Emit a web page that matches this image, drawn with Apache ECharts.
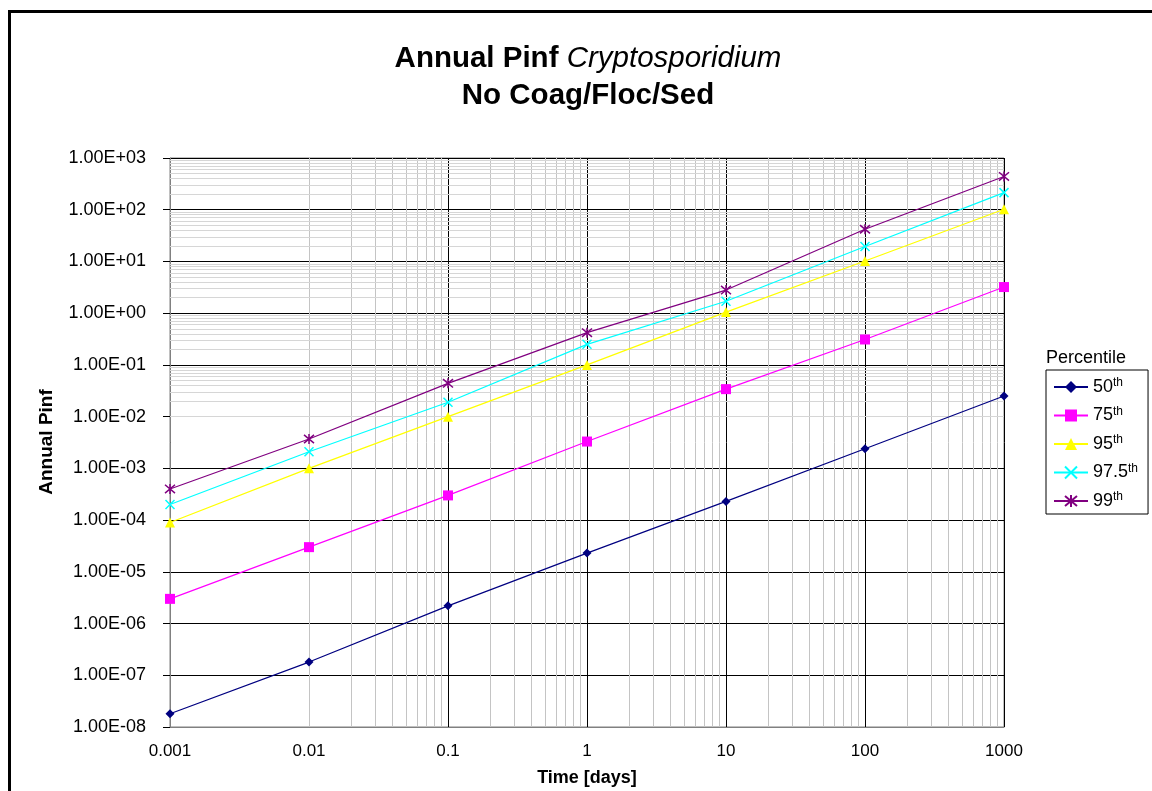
<!DOCTYPE html>
<html>
<head>
<meta charset="utf-8">
<script src="https://cdn.jsdelivr.net/npm/echarts@6/dist/echarts.min.js"></script>
<style>
html,body{margin:0;padding:0;background:#fff;}
#c{width:1152px;height:791px;}
</style>
</head>
<body>
<div id="c"></div>
<script>
// ---- data ----
const timeDays = [0.001, 0.01, 0.1, 1, 10, 100, 1000];
const p50  = [1.8e-8, 1.8e-7, 2.2e-6, 2.3e-5, 2.3e-4, 2.4e-3, 2.5e-2];
const p75  = [3.0e-6, 3.0e-5, 3.0e-4, 3.3e-3, 3.4e-2, 3.1e-1, 3.2];
const p95  = [9.0e-5, 1.0e-3, 1.0e-2, 1.0e-1, 1.05, 10.2, 102];
const p975 = [2.0e-4, 2.1e-3, 1.9e-2, 0.25, 1.7, 19.5, 214];
const p99  = [4.0e-4, 3.7e-3, 4.4e-2, 0.42, 2.8, 42, 440];
const seriesNames = ['50', '75', '95', '97.5', '99'];
const xTickLabels = ['0.001', '0.01', '0.1', '1', '10', '100', '1000'];
const yTickLabels = ['1.00E-08','1.00E-07','1.00E-06','1.00E-05','1.00E-04','1.00E-03','1.00E-02','1.00E-01','1.00E+00','1.00E+01','1.00E+02','1.00E+03'];

const FONT = "'Liberation Sans', Arial, sans-serif";
const chart = echarts.init(document.getElementById('c'));

function pairs(arr){ return timeDays.map((x,i)=>[x, arr[i]]); }

// minor grid values (2..9 x 10^k)
const xMinor = [], yMinor = [];
for (let k=-3;k<=2;k++) for (let m=2;m<=9;m++) xMinor.push(m*Math.pow(10,k));
for (let k=-8;k<=2;k++) for (let m=2;m<=9;m++) yMinor.push(m*Math.pow(10,k));

const colors = ['#000080', '#FF00FF', '#FFFF00', '#00FFFF', '#800080'];
const symbols = ['diamond', 'rect', 'triangle',
  'path://M0,0L10,10M10,0L0,10',
  'path://M0,0L10,10M10,0L0,10M5,-1L5,11'];
const sizes = [9, 10, 10, 9, 10];
const dataSets = [p50, p75, p95, p975, p99];

const dataSeries = dataSets.map((d,i)=>({
  name: seriesNames[i],
  type: 'line',
  data: pairs(d),
  symbol: symbols[i],
  symbolSize: sizes[i],
  showSymbol: true,
  lineStyle: {color: colors[i], width: 1.2},
  itemStyle: i>=3 ? {color: colors[i], borderColor: colors[i], borderWidth: 1.5} : {color: colors[i], borderWidth: 0},
  emphasis: {disabled: true},
  z: 10
}));

const gridSeries = {
  name: '_grid',
  type: 'line',
  data: [],
  silent: true,
  z: 1,
  markLine: {
    silent: true,
    symbol: ['none','none'],
    label: {show: false},
    animation: false,
    z: 1,
    data: [
      ...xMinor.map(v=>({xAxis: v, lineStyle:{color:'#c4c4c4', width:1, type:'solid'}})),
      ...yMinor.map(v=>({yAxis: v, lineStyle:{color:'#d6d6d6', width:1, type:'solid'}}))
    ]
  }
};

const option = {
  animation: false,
  backgroundColor: '#fff',
  textStyle: {fontFamily: FONT},
  grid: {left: 170, top: 158, right: 148, bottom: 64, show: true, borderColor: '#808080', borderWidth: 1, backgroundColor: 'transparent'},
  xAxis: {
    type: 'log', logBase: 10, min: 0.001, max: 1000, interval: 1,
    axisLine: {show: true, lineStyle: {color: '#808080', width: 1}},
    axisTick: {show: false},
    splitLine: {show: true, lineStyle: {color: '#000', width: 1}},
    axisLabel: {color: '#000', fontSize: 17, fontFamily: FONT, margin: 16,
      formatter: v => xTickLabels[Math.round(Math.log10(v)) + 3]}
  },
  yAxis: {
    type: 'log', logBase: 10, min: 1e-8, max: 1000, interval: 1,
    axisLine: {show: true, lineStyle: {color: '#808080', width: 1}},
    axisTick: {show: true, inside: false, length: 7, lineStyle: {color: '#000', width: 1}},
    splitLine: {show: true, lineStyle: {color: '#000', width: 1}},
    axisLabel: {color: '#000', fontSize: 18, fontFamily: FONT, margin: 24,
      formatter: v => yTickLabels[Math.round(Math.log10(v)) + 8]}
  },
  legend: {
    orient: 'vertical',
    left: 1046, top: 370,
    data: seriesNames,
    itemWidth: 34, itemHeight: 15, itemGap: 9.5,
    padding: [7, 10, 4, 7],
    backgroundColor: '#fff',
    borderColor: '#000', borderWidth: 1, borderRadius: 0,
    selectedMode: false,
    formatter: n => '{n|' + n + '}{s|th}',
    textStyle: {
      color: '#000', fontFamily: FONT, fontSize: 18,
      rich: {
        n: {fontSize: 18, fontFamily: FONT, color: '#000', lineHeight: 20},
        s: {fontSize: 12, fontFamily: FONT, color: '#000', verticalAlign: 'top', lineHeight: 12}
      }
    }
  },
  graphic: [
    {type: 'rect', silent: true, z: 100, shape: {x: 9.5, y: 11.5, width: 2000, height: 2000},
      style: {fill: 'none', stroke: '#000', lineWidth: 3}},
    {type: 'text', x: 588, y: 40, z: 100, style: {
      text: '{b|Annual Pinf }{i|Cryptosporidium}\n{b|No Coag/Floc/Sed}',
      align: 'center', verticalAlign: 'top',
      rich: {
        b: {font: 'bold 29.5px ' + FONT, fill: '#000', lineHeight: 37},
        i: {font: 'italic 29.5px ' + FONT, fill: '#000', lineHeight: 37}
      }
    }},
    {type: 'text', x: 47, y: 442, rotation: Math.PI/2, z: 100, style: {
      text: 'Annual Pinf', align: 'center', verticalAlign: 'middle',
      font: 'bold 19px ' + FONT, fill: '#000'}},
    {type: 'text', x: 587, y: 778, z: 100, style: {
      text: 'Time [days]', align: 'center', verticalAlign: 'middle',
      font: 'bold 18px ' + FONT, fill: '#000'}},
    {type: 'text', x: 1046, y: 358, z: 100, style: {
      text: 'Percentile', align: 'left', verticalAlign: 'middle',
      font: '18px ' + FONT, fill: '#000'}}
  ],
  series: [gridSeries, ...dataSeries]
};
chart.setOption(option);
</script>
</body>
</html>
